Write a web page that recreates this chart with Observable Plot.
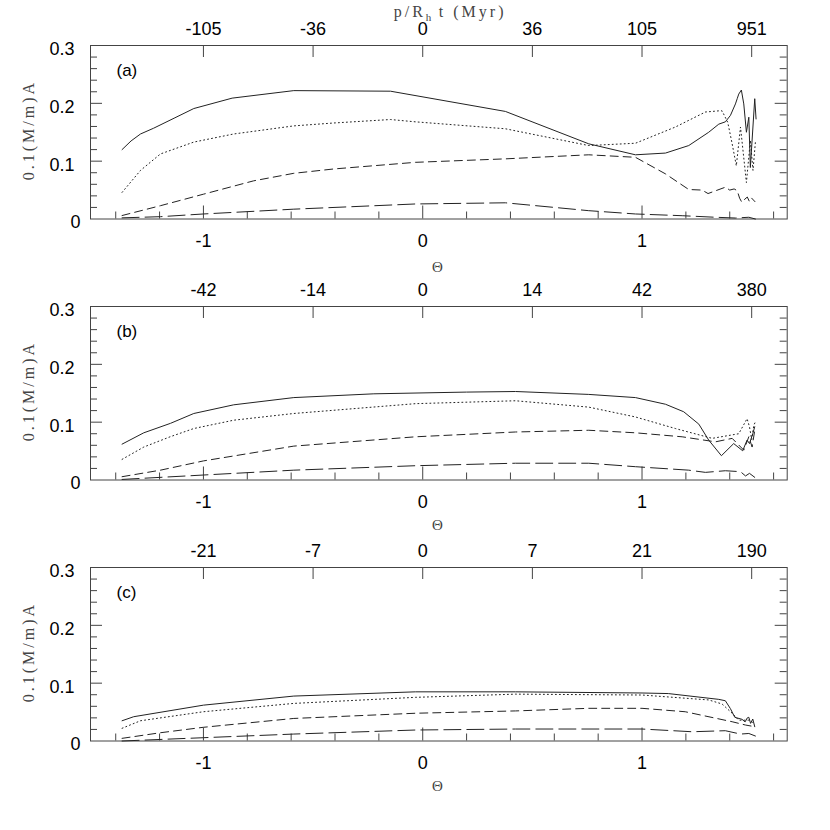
<!DOCTYPE html>
<html><head><meta charset="utf-8">
<script src="https://cdn.jsdelivr.net/npm/d3@7"></script>
<script src="https://cdn.jsdelivr.net/npm/@observablehq/plot@0.6"></script>
<style>
body{margin:0;background:#fff}
svg{display:block}
g[font-family="Liberation Serif"] text{letter-spacing:3px}
</style>
</head><body><div id="chart"></div>
<script>
// ---- data: [theta, 0.1(M/m)A] ----
const aSolid = [[-1.371,0.120],[-1.33,0.135],[-1.287,0.147],[-1.227,0.157],[-1.13,0.175],[-1.044,0.191],[-0.869,0.209],[-0.588,0.222],[-0.147,0.221],[0.377,0.186],[0.757,0.130],[0.970,0.111],[1.107,0.114],[1.213,0.127],[1.304,0.150],[1.350,0.164],[1.380,0.168],[1.403,0.179],[1.426,0.199],[1.434,0.208],[1.441,0.216],[1.453,0.223],[1.464,0.199],[1.476,0.150],[1.487,0.176],[1.494,0.089],[1.514,0.208],[1.520,0.173]];
const aDot = [[-1.371,0.046],[-1.287,0.084],[-1.196,0.1125],[-1.044,0.133],[-0.862,0.147],[-0.588,0.161],[-0.406,0.166],[-0.147,0.172],[-0.033,0.168],[0.377,0.156],[0.757,0.127],[0.970,0.131],[1.152,0.159],[1.289,0.185],[1.350,0.187],[1.365,0.187],[1.391,0.167],[1.411,0.130],[1.430,0.092],[1.449,0.159],[1.476,0.063],[1.494,0.136],[1.506,0.084],[1.517,0.133]];
const aDash = [[-1.371,0.006],[-1.196,0.023],[-0.999,0.043],[-0.771,0.066],[-0.588,0.079],[-0.406,0.0865],[-0.033,0.098],[0.377,0.104],[0.757,0.111],[0.970,0.1067],[1.107,0.078],[1.213,0.051],[1.274,0.050],[1.301,0.044],[1.380,0.055],[1.40,0.050],[1.42,0.052],[1.434,0.049],[1.445,0.036],[1.455,0.029],[1.465,0.033],[1.48,0.038],[1.49,0.030],[1.50,0.036],[1.515,0.030]];
const aLong = [[-1.371,0.002],[-1.196,0.004],[-1.0,0.0087],[-0.588,0.017],[-0.033,0.026],[0.377,0.028],[0.757,0.0144],[0.970,0.0087],[1.183,0.0057],[1.335,0.003],[1.426,0.0017],[1.487,0.003],[1.517,0.0]];

const bSolid = [[-1.371,0.062],[-1.272,0.0816],[-1.15,0.098],[-1.044,0.115],[-0.862,0.130],[-0.588,0.1425],[-0.223,0.149],[0.2,0.152],[0.423,0.153],[0.757,0.148],[0.970,0.1425],[1.107,0.131],[1.19,0.118],[1.259,0.0966],[1.304,0.069],[1.362,0.042],[1.418,0.063],[1.459,0.0505],[1.479,0.069],[1.490,0.063],[1.505,0.080],[1.514,0.092]];
const bDot = [[-1.371,0.0357],[-1.272,0.057],[-1.15,0.075],[-1.044,0.089],[-0.862,0.1034],[-0.588,0.115],[-0.033,0.132],[0.423,0.137],[0.757,0.126],[0.970,0.109],[1.152,0.089],[1.320,0.072],[1.441,0.080],[1.479,0.106],[1.490,0.092],[1.500,0.070],[1.510,0.095],[1.517,0.1005]];
const bDash = [[-1.371,0.0057],[-1.196,0.017],[-1.0,0.033],[-0.588,0.0586],[-0.033,0.0747],[0.423,0.083],[0.757,0.086],[0.970,0.0816],[1.183,0.0747],[1.335,0.066],[1.411,0.072],[1.464,0.0517],[1.487,0.0747],[1.502,0.057],[1.514,0.086]];
const bLong = [[-1.371,0.001],[-1.0,0.0086],[-0.588,0.017],[-0.033,0.0247],[0.423,0.029],[0.757,0.029],[0.970,0.023],[1.213,0.017],[1.289,0.0132],[1.380,0.016],[1.449,0.0144],[1.472,0.007],[1.490,0.0115],[1.514,0.0046]];

const cSolid = [[-1.371,0.035],[-1.318,0.042],[-1.0,0.062],[-0.588,0.0777],[-0.033,0.085],[0.423,0.085],[1.0,0.083],[1.12,0.082],[1.350,0.072],[1.380,0.0696],[1.403,0.056],[1.423,0.041],[1.456,0.0375],[1.47,0.033],[1.48,0.040],[1.487,0.041],[1.495,0.0305],[1.505,0.038],[1.514,0.0247]];
const cDot = [[-1.371,0.022],[-1.287,0.035],[-1.0,0.0506],[-0.588,0.065],[-0.033,0.0755],[0.423,0.081],[1.0,0.0795],[1.304,0.071],[1.365,0.064],[1.411,0.048],[1.441,0.036],[1.487,0.036],[1.514,0.030]];
const cDash = [[-1.371,0.0046],[-1.196,0.0143],[-1.0,0.0237],[-0.588,0.039],[-0.033,0.048],[0.423,0.052],[0.757,0.0565],[1.0,0.0565],[1.197,0.0506],[1.411,0.0333],[1.472,0.0276],[1.514,0.0247]];
const cLong = [[-1.371,0.0],[-1.0,0.0057],[-0.588,0.012],[-0.033,0.019],[0.423,0.0207],[1.0,0.0207],[1.229,0.016],[1.380,0.0178],[1.449,0.012],[1.487,0.013],[1.517,0.0086]];

// ---- ticks & labels ----
const bottomMajor = [-1, 0, 1];
const bottomMinor = [-1.4,-1.2,-0.8,-0.6,-0.4,-0.2,0.2,0.4,0.6,0.8,1.2,1.4,1.6];
const topTicks = [-1, -0.5, 0, 0.5, 1, 1.5];
const topLabelsA = ["-105","-36","0","36","105","951"];
const topLabelsB = ["-42","-14","0","14","42","380"];
const topLabelsC = ["-21","-7","0","7","21","190"];
const yMajor = [0.1, 0.2];
const yMinor = [0.02,0.04,0.06,0.08,0.12,0.14,0.16,0.18,0.22,0.24,0.26,0.28];
const yLabels = [0.1, 0.2, 0.3];
const panelNames = ["(a)","(b)","(c)"];

const W = 830, ML = 90, MR = 43.3, MT = 45, PH = 173.5;
const PW = W - ML - MR;
const INK = "#222", AX = "#444", SERIF = "Liberation Serif";
const mid = {lineAnchor: "middle"};

function panel(series, topLabels, name, height, showTitle, thetaDy) {
  const MB = height - MT - PH;
  const xy = {x: d => d[0], y: d => d[1], stroke: INK, strokeWidth: 1};
  const marks = [
    Plot.frame({stroke: AX}),
    Plot.tickX(bottomMinor, {x: d => d, insetTop: PH - 7, stroke: AX}),
    Plot.tickX(bottomMajor, {x: d => d, insetTop: PH - 13, stroke: AX}),
    Plot.tickX(topTicks, {x: d => d, insetBottom: PH - 12, stroke: AX}),
    Plot.tickY(yMinor, {y: d => d, insetRight: PW - 7, stroke: AX}),
    Plot.tickY(yMajor, {y: d => d, insetRight: PW - 12, stroke: AX}),
    Plot.tickY(yMinor, {y: d => d, insetLeft: PW - 7, stroke: AX}),
    Plot.tickY(yMajor, {y: d => d, insetLeft: PW - 12, stroke: AX}),
    Plot.text(bottomMajor, {...mid, x: d => d, text: d => String(d), frameAnchor: "bottom", dy: 22, fill: "#000"}),
    Plot.text(topTicks, {...mid, x: d => d, text: (d, i) => topLabels[i], frameAnchor: "top", dy: -16, fill: "#000"}),
    Plot.text(yLabels, {...mid, y: d => d, text: d => d.toFixed(1), frameAnchor: "left", textAnchor: "end", dx: -16, dy: 4, fill: "#000"}),
    Plot.text([0], {...mid, y: d => d, text: d => "0", frameAnchor: "left", textAnchor: "end", dx: -10, dy: 3, fill: "#000"}),
    Plot.text([name], {...mid, text: d => d, frameAnchor: "top-left", textAnchor: "start", dx: 26, dy: 25, fill: "#000", fontSize: 17}),
    Plot.text(["0.1(M/m)A"], {...mid, text: d => d, frameAnchor: "left", textAnchor: "start", dx: -62, dy: 48, rotate: -90, fontFamily: SERIF, fontSize: 16, fill: AX}),
    Plot.text(["\u0398"], {...mid, text: d => d, frameAnchor: "bottom", dy: thetaDy, fontFamily: SERIF, fontSize: 15, fill: AX}),
    Plot.line(series[3], {...xy, strokeDasharray: "17,6"}),
    Plot.line(series[2], {...xy, strokeDasharray: "8,5"}),
    Plot.line(series[1], {...xy, strokeDasharray: "1,3"}),
    Plot.line(series[0], xy)
  ];
  if (showTitle) {
    marks.push(
      Plot.text(["p/R"], {...mid, text: d => d, frameAnchor: "top", textAnchor: "start", dx: -45, dy: -34, fontFamily: SERIF, fontSize: 16, fill: AX}),
      Plot.text(["h"], {...mid, text: d => d, frameAnchor: "top", textAnchor: "start", dx: -13, dy: -28, fontFamily: SERIF, fontSize: 11, fill: AX}),
      Plot.text(["t (Myr)"], {...mid, text: d => d, frameAnchor: "top", textAnchor: "start", dx: 0, dy: -34, fontFamily: SERIF, fontSize: 16, fill: AX})
    );
  }
  return Plot.plot({
    width: W, height,
    marginLeft: ML, marginRight: MR, marginTop: MT, marginBottom: MB,
    x: {domain: [-1.515, 1.662], axis: null},
    y: {domain: [0, 0.3], axis: null},
    style: {fontFamily: "Liberation Sans, Arial, sans-serif", fontSize: "18px", background: "#fff", overflow: "visible"},
    marks
  });
}

const chart = document.getElementById("chart");
chart.append(panel([aSolid, aDot, aDash, aLong], topLabelsA, panelNames[0], 261, true, 48));
chart.append(panel([bSolid, bDot, bDash, bLong], topLabelsB, panelNames[1], 261, false, 45));
chart.append(panel([cSolid, cDot, cDash, cLong], topLabelsC, panelNames[2], 290, false, 45));
</script>
</body></html>
